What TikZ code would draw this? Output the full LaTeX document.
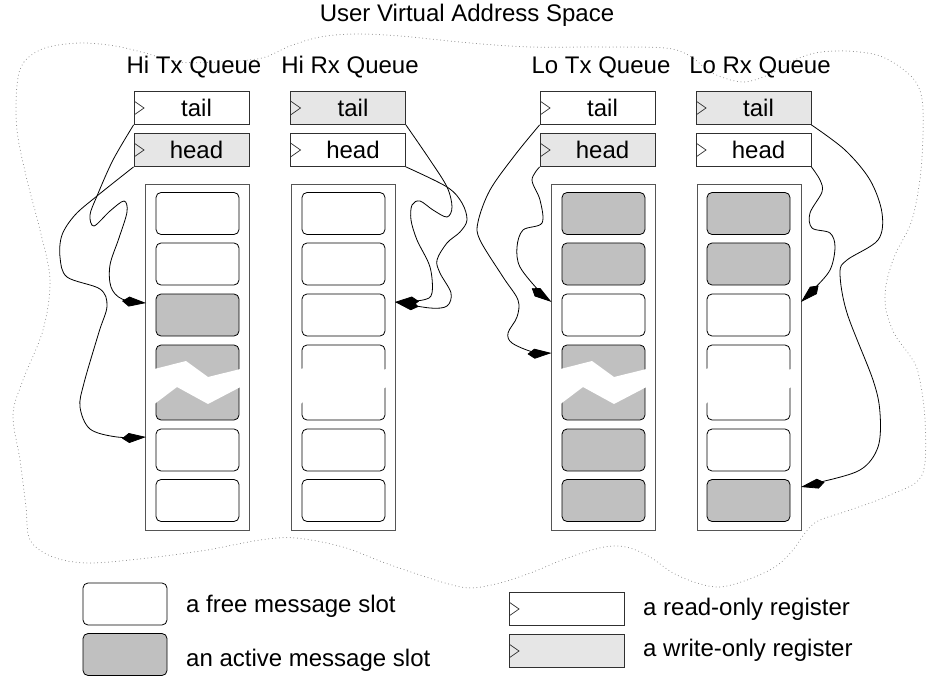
\documentclass[tikz,border=0pt]{standalone}
\usepackage{fontspec}
\setmainfont{Liberation Sans}
\usetikzlibrary{arrows.meta}
\definecolor{wocol}{HTML}{E6E6E6}
\definecolor{actcol}{HTML}{C0C0C0}
\definecolor{bordcol}{HTML}{303030}
\definecolor{colbord}{HTML}{555555}
\definecolor{cloudcol}{HTML}{808080}
\begin{document}
\begin{tikzpicture}[x=1pt,y=-1pt,
  txt/.style={font=\fontsize{24}{28}\selectfont, inner sep=0pt},
  reg/.style={draw=bordcol, line width=0.8pt, minimum width=115pt, minimum height=33pt,
    inner sep=0pt, font=\fontsize{24}{28}\selectfont,
    path picture={\draw[bordcol, line width=0.7pt]
      ([yshift=7pt]path picture bounding box.west) --
      ([xshift=10pt]path picture bounding box.west) --
      ([yshift=-7pt]path picture bounding box.west);}},
  wreg/.style={reg, fill=wocol},
  rreg/.style={reg, fill=white},
  colbox/.style={draw=colbord, line width=0.8pt, minimum width=104pt, minimum height=346pt, inner sep=0pt},
  slot/.style={draw=black, line width=0.8pt, rounded corners=5pt, minimum width=83pt, inner sep=0pt},
  ptr/.style={black, line width=0.8pt, -{Kite[length=24pt,width=10pt,inset=7pt]}},
  cloud/.style={cloudcol, line width=1pt, line cap=round, dash pattern=on 0pt off 3.6pt}
]
\useasboundingbox (0,0) rectangle (928,676);

% cloud
\draw[cloud] plot[smooth cycle, tension=0.55] coordinates {
 (17,85) (24,62) (45,48) (80,43) (115,46) (145,53) (178,62) (220,62) (262,58) (290,46)
 (320,37) (355,34) (400,36) (470,43) (530,47) (600,47) (665,48) (690,56) (712,73) (742,82)
 (768,75) (790,62) (815,53) (845,51) (877,55) (900,67) (917,84) (923,110) (921,170) (912,220)
 (895,255) (886,285) (886,310) (895,335) (908,353) (918,372) (925,420) (922,475) (890,495)
 (850,510) (818,521) (805,533) (793,550) (775,567) (747,580) (720,587) (697,583) (673,573)
 (650,557) (630,548) (612,546) (592,550) (562,560) (533,572) (500,583) (470,588) (445,583)
 (420,575) (385,563) (343,547) (296,538) (260,540) (207,550) (148,558) (89,563) (53,557)
 (30,540) (26,507) (20,460) (13,415) (23,380) (43,330) (50,280) (40,230) (27,180) (17,130)};

% title and labels
\node[txt, anchor=base] (title) at (467,22) {User Virtual Address Space};
\node[txt, anchor=base] (lHT) at (194,74) {Hi Tx Queue};
\node[txt, anchor=base] (lHR) at (350,74) {Hi Rx Queue};
\node[txt, anchor=base] (lLT) at (601,74) {Lo Tx Queue};
\node[txt, anchor=base] (lLR) at (760,74) {Lo Rx Queue};

% registers
\node[rreg] (tHT) at (191.5,108) {\hspace*{10pt}tail};
\node[wreg] (hHT) at (191.5,150) {\hspace*{10pt}head};
\node[wreg] (tHR) at (348,108) {\hspace*{10pt}tail};
\node[rreg] (hHR) at (348,150) {\hspace*{10pt}head};
\node[rreg] (tLT) at (597.5,108) {\hspace*{10pt}tail};
\node[wreg] (hLT) at (597.5,150) {\hspace*{10pt}head};
\node[wreg] (tLR) at (753.5,108) {\hspace*{10pt}tail};
\node[rreg] (hLR) at (753.5,150) {\hspace*{10pt}head};

% columns
\node[colbox] (cHT) at (197,357) {};
\node[colbox] (cHR) at (343,357) {};
\node[colbox] (cLT) at (603,357) {};
\node[colbox] (cLR) at (749,357) {};

% slots
\foreach \i/\y/\h/\f in {1/213.5/42/white, 2/264/42/white, 3/315/42/actcol, 4/382.5/75/actcol, 5/450/42/white, 6/500.5/42/white}
  \node[slot, fill=\f, minimum height=\h pt] (sHT\i) at (197.5,\y) {};
\foreach \i/\y/\h/\f in {1/213.5/42/white, 2/264/42/white, 3/315/42/white, 4/382.5/75/white, 5/450/42/white, 6/500.5/42/white}
  \node[slot, fill=\f, minimum height=\h pt] (sHR\i) at (343.5,\y) {};
\foreach \i/\y/\h/\f in {1/213.5/42/actcol, 2/264/42/actcol, 3/315/42/white, 4/382.5/75/actcol, 5/450/42/actcol, 6/500.5/42/actcol}
  \node[slot, fill=\f, minimum height=\h pt] (sLT\i) at (603.5,\y) {};
\foreach \i/\y/\h/\f in {1/213.5/42/actcol, 2/264/42/actcol, 3/315/42/white, 4/382.5/75/white, 5/450/42/white, 6/500.5/42/actcol}
  \node[slot, fill=\f, minimum height=\h pt] (sLR\i) at (748.5,\y) {};

% break marks in the tall slots
\foreach \L in {156,302,562,707}
  \fill[white] (\L-1.5,369) -- (\L+30,361) -- (\L+52,377) -- (\L+84.5,369) -- (\L+84.5,387)
     -- (\L+52,404) -- (\L+21,387) -- (\L-1.5,404) -- cycle;

% pointer targets
\coordinate (eHT3) at (146,303);
\coordinate (eHT5) at (146,437);
\coordinate (eHR3) at (395,302);
\coordinate (eLT3) at (551.5,302);
\coordinate (eLT4) at (551.5,353);
\coordinate (eLR3) at (801,302);
\coordinate (eLR6) at (801,487);

% pointers
\draw[ptr] plot[smooth, tension=0.55] coordinates {(tHT.south west) (113,160) (97,196) (90,215) (94,226)
  (110,211) (124,201) (127,212) (119,238) (110,265) (111,287) (122,299) (eHT3)};
\draw[ptr] plot[smooth, tension=0.55] coordinates {(hHT.south west) (97,196) (75,215) (62,235) (60,257)
  (67,277) (100,289) (107,306) (99,332) (84,383) (80,407) (90,429) (117,437) (eHT5)};
\draw[ptr] plot[smooth, tension=0.55] coordinates {(tHR.south east) (430,160) (447,187) (452,207) (447,217)
  (433,210) (420,201) (412,205) (411,220) (417,240) (430,267) (432,293) (423,300) (eHR3)};
\draw[ptr] plot[smooth, tension=0.55] coordinates {(hHR.south east) (447,187) (462,203) (467,220) (460,232)
  (447,243) (437,260) (440,273) (451,293) (447,306) (430,308) (eHR3)};
\draw[ptr] plot[smooth, tension=0.55] coordinates {(tLT.south west) (515,155) (490,190) (478,222) (480,240)
  (503,277) (518,300) (517,317) (508,333) (512,343) (533,352) (eLT4)};
\draw[ptr] plot[smooth, tension=0.55] coordinates {(hLT.south west) (532,180) (540,200) (542,223) (523,230)
  (517,247) (520,267) (540,292) (eLT3)};
\draw[ptr] plot[smooth, tension=0.55] coordinates {(hLR.south east) (820,180) (822,192) (810,213) (812,228)
  (830,233) (835,247) (830,270) (813,290) (eLR3)};
\draw[ptr] plot[smooth, tension=0.55] coordinates {(tLR.south east) (845,150) (870,180) (882,213) (878,240)
  (847,260) (840,273) (847,313) (873,380) (880,413) (878,447) (860,470) (817,483) (eLR6)};

% legend
\node[slot, fill=white, minimum height=42pt, minimum width=84pt] (legFree) at (125,604) {};
\node[slot, fill=actcol, minimum height=42pt, minimum width=84pt] (legAct) at (125,654.5) {};
\node[txt, anchor=base west] (legFreeT) at (186,612) {a free message slot};
\node[txt, anchor=base west] (legActT) at (186,666) {an active message slot};
\node[rreg] (legRO) at (566.5,609) {};
\node[wreg] (legWO) at (566.5,651) {};
\node[txt, anchor=base west] (legROT) at (643,615) {a read-only register};
\node[txt, anchor=base west] (legWOT) at (643,656) {a write-only register};
\end{tikzpicture}
\end{document}
